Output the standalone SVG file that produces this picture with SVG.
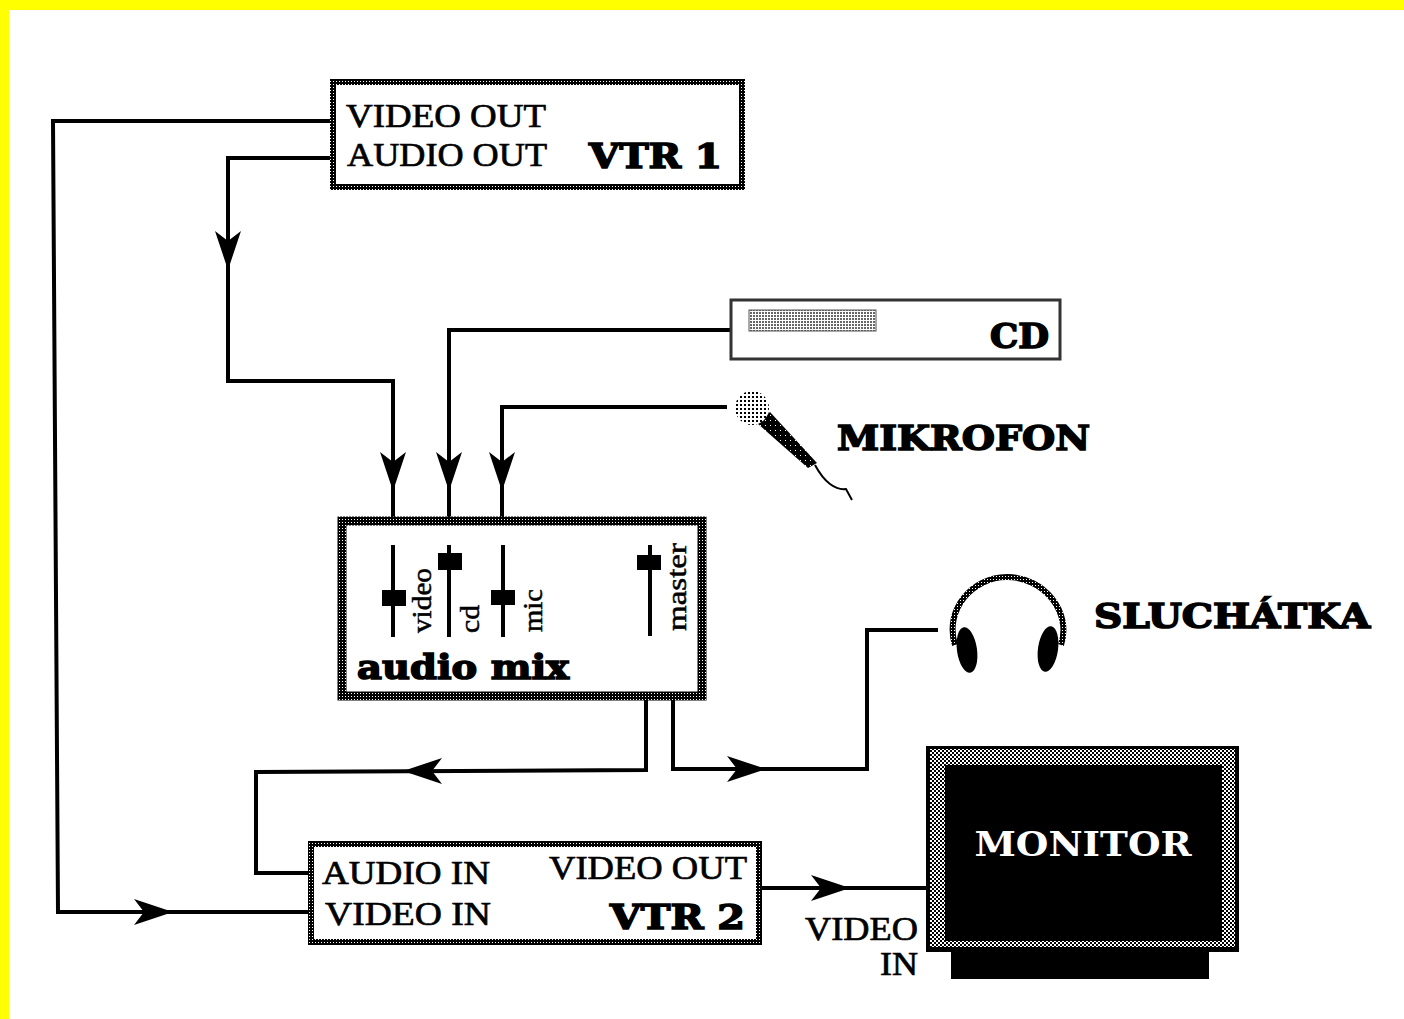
<svg xmlns="http://www.w3.org/2000/svg" width="1404" height="1019" viewBox="0 0 1404 1019">
<style>
text{font-family:"Liberation Serif",serif;fill:#000}
.l{font-size:34px;stroke:#000;stroke-width:.7px}
.b{font-size:34px;font-weight:bold;font-family:"DejaVu Serif",serif;stroke:#000;stroke-width:1.6px}
.v{font-size:27px;stroke:#000;stroke-width:.5px}
.c{fill:none;stroke:#000;stroke-width:4px}
.box{fill:#fff;stroke:url(#ht);stroke-width:6px}
.fader{stroke:#000;stroke-width:4px}
.knob{fill:#000}
</style>
<defs>
<pattern id="ht" width="3" height="3" patternUnits="userSpaceOnUse"><rect width="3" height="3" fill="#000"/><rect width="1" height="1" fill="#fff"/></pattern>
<pattern id="ht3" width="4" height="4" patternUnits="userSpaceOnUse"><rect width="4" height="4" fill="#fff"/><rect width="2" height="2" fill="#000"/><rect x="2" y="2" width="2" height="2" fill="#000"/></pattern>
<pattern id="dots" width="4" height="4" patternUnits="userSpaceOnUse"><rect width="4" height="4" fill="#fff"/><rect width="2" height="2" fill="#000"/></pattern>
<pattern id="cdp" width="3" height="3" patternUnits="userSpaceOnUse"><rect width="3" height="3" fill="#fff"/><rect width="2" height="2" fill="#666"/></pattern>
<pattern id="mic" width="5" height="5" patternUnits="userSpaceOnUse"><rect width="5" height="5" fill="#000"/><rect width="1" height="1" fill="#fff"/></pattern>
<path id="ah" d="M0 0L-39 -13L-29 0L-39 13Z" fill="#000"/>
</defs>
<rect width="1404" height="1019" fill="#fff"/>
<path d="M0 0H1404V10H9V1019H0Z" fill="#ff0"/>
<g id="connectors">
<path class="c" d="M332 121H53L58 912H310"/>
<path class="c" d="M332 158H228V381H393V520"/>
<path class="c" d="M731 330H449V520"/>
<path class="c" d="M727 407H502V520"/>
<path class="c" d="M646 696V770L256 772V873H310"/>
<path class="c" d="M673 696V769H867V630H938"/>
<path class="c" d="M760 888H930"/>
<use href="#ah" transform="translate(228 270) rotate(90)"/>
<use href="#ah" transform="translate(393 491) rotate(90)"/>
<use href="#ah" transform="translate(449 491) rotate(90)"/>
<use href="#ah" transform="translate(502 491) rotate(90)"/>
<use href="#ah" transform="translate(403 771) rotate(180)"/>
<use href="#ah" transform="translate(766 769)"/>
<use href="#ah" transform="translate(173 912)"/>
<use href="#ah" transform="translate(850 888)"/>
</g>
<g id="vtr1">
<rect class="box" x="333" y="82" width="409" height="105"/>
<text class="l" x="346" y="127" textLength="200" lengthAdjust="spacingAndGlyphs">VIDEO OUT</text>
<text class="l" x="347" y="166" textLength="200" lengthAdjust="spacingAndGlyphs">AUDIO OUT</text>
<text class="b" x="589" y="168" textLength="133" lengthAdjust="spacingAndGlyphs">VTR 1</text>
</g>
<g id="cd">
<rect x="731" y="300" width="329" height="59" fill="#fff" stroke="#333" stroke-width="3"/>
<rect x="749" y="310" width="127" height="21" fill="url(#cdp)" stroke="#555"/>
<text class="b" x="990" y="348" textLength="59" lengthAdjust="spacingAndGlyphs">CD</text>
</g>
<g id="mikrofon">
<path d="M757 423L770 412L817 463L808 468Z" fill="url(#mic)"/>
<circle cx="752" cy="408" r="17" fill="url(#dots)"/>
<path d="M815 465Q822 478 830 484T846 489L852 500" fill="none" stroke="#000" stroke-width="2"/>
<text class="b" x="837" y="450" textLength="253" lengthAdjust="spacingAndGlyphs">MIKROFON</text>
</g>
<g id="audio-mix">
<rect x="342" y="521" width="360" height="175" fill="#fff" stroke="url(#ht)" stroke-width="9"/>
<path class="fader" d="M393 545V637M449 545V637M503 545V637M650 545V636"/>
<rect class="knob" x="382" y="590" width="24" height="16"/>
<rect class="knob" x="438" y="553" width="24" height="17"/>
<rect class="knob" x="491" y="590" width="24" height="15"/>
<rect class="knob" x="637" y="555" width="24" height="15"/>
<text class="v" transform="translate(431 633) rotate(-90)" textLength="65" lengthAdjust="spacingAndGlyphs">video</text>
<text class="v" transform="translate(479 633) rotate(-90)" textLength="28" lengthAdjust="spacingAndGlyphs">cd</text>
<text class="v" transform="translate(542 632) rotate(-90)" textLength="43" lengthAdjust="spacingAndGlyphs">mic</text>
<text class="v" transform="translate(686 631) rotate(-90)" textLength="88" lengthAdjust="spacingAndGlyphs">master</text>
<text class="b" x="357" y="679" textLength="212" lengthAdjust="spacingAndGlyphs">audio mix</text>
</g>
<g id="sluchatka">
<path d="M955 645C944 610 972 577 1007 577C1044 577 1072 612 1061 645" fill="none" stroke="url(#ht)" stroke-width="6"/>
<ellipse cx="967" cy="650" rx="10" ry="23" transform="rotate(-8 967 650)" fill="#000"/>
<ellipse cx="1048" cy="649" rx="10" ry="23" transform="rotate(8 1048 649)" fill="#000"/>
<text class="b" x="1094" y="628" textLength="276" lengthAdjust="spacingAndGlyphs">SLUCHÁTKA</text>
</g>
<g id="monitor">
<rect x="951" y="945" width="258" height="34" fill="#000"/>
<rect x="926" y="746" width="313" height="206" fill="#000"/>
<path fill-rule="evenodd" d="M930 749H1235V947H930ZM945 765V941H1222V765Z" fill="url(#ht3)"/>
<text x="1083" y="856" text-anchor="middle" textLength="217" lengthAdjust="spacingAndGlyphs" style="font-size:33px;font-weight:bold;fill:#fff;font-family:'DejaVu Serif',serif">MONITOR</text>
</g>
<g id="vtr2">
<rect class="box" x="311" y="844" width="448" height="98"/>
<text class="l" x="322" y="884" textLength="168" lengthAdjust="spacingAndGlyphs">AUDIO IN</text>
<text class="l" x="325" y="925" textLength="166" lengthAdjust="spacingAndGlyphs">VIDEO IN</text>
<text class="l" x="549" y="879" textLength="198" lengthAdjust="spacingAndGlyphs">VIDEO OUT</text>
<text class="b" x="610" y="929" textLength="135" lengthAdjust="spacingAndGlyphs">VTR 2</text>
</g>
<g id="video-in-label">
<text class="l" x="805" y="940" textLength="113" lengthAdjust="spacingAndGlyphs">VIDEO</text>
<text class="l" x="880" y="975" textLength="38" lengthAdjust="spacingAndGlyphs">IN</text>
</g>
</svg>
